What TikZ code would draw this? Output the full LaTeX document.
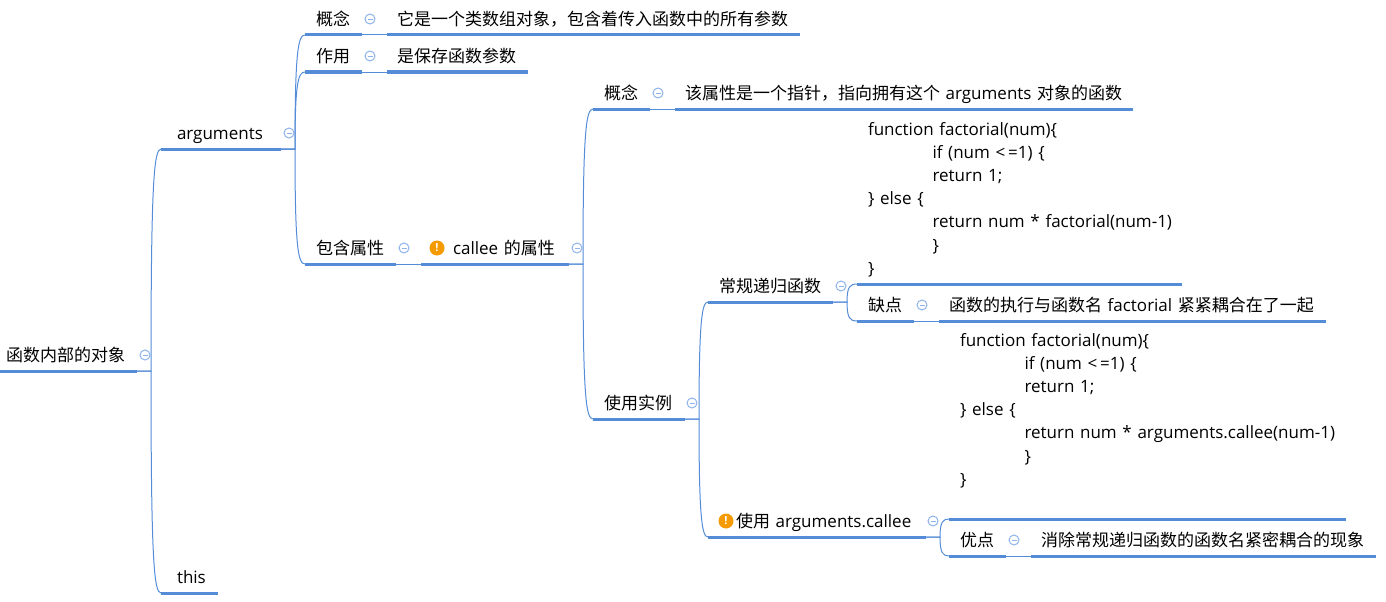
\documentclass[tikz,border=0pt]{standalone}
\usepackage{fontspec}
\setmainfont{Open Sans}
\newfontfamily\zhfont{Noto Sans CJK SC}
\newcommand{\zh}[1]{{\zhfont\fontsize{17}{23.2}\selectfont #1}}
\usetikzlibrary{calc}
\definecolor{mapblue}{HTML}{558CD8}
\definecolor{foldblue}{HTML}{8DB3EA}
\definecolor{warnorange}{HTML}{F59A00}
\tikzset{
  x=1pt,y=-1pt,
  topic/.style={anchor=south west,inner ysep=0pt,inner xsep=0pt,outer sep=0pt,minimum height=32pt,
    text height=15pt,text depth=2pt,
    font=\fontsize{17}{23.2}\selectfont,align=left,text=black},
  codeblock/.style={text height=,text depth=},
  topicbar/.style={draw=mapblue,line width=3pt},
  foldmark/.style={circle,draw=foldblue,line width=1pt,minimum size=10pt,inner sep=0pt,outer sep=0pt,
    path picture={\draw[foldblue,line width=.9pt]([xshift=2.5pt]path picture bounding box.west)--([xshift=-2.5pt]path picture bounding box.east);}},
  warnmark/.style={circle,fill=warnorange,minimum size=15pt,inner sep=0pt,outer sep=0pt,text=white,
    font=\fontsize{11}{11}\bfseries\selectfont},
  link/.style={mapblue,line width=1pt},
}
% [options], name, x1, x2, ybar, left pad, text
\newcommand{\topic}[7][]{%
  \coordinate (#2W) at (#3,#5);
  \coordinate (#2E) at (#4,#5);
  \draw[topicbar] (#2W) -- (#2E);
  \node[topic,text width=#4pt-#3pt-#6pt,xshift=#6pt,#1] (#2T) at (#2W) {#7};}
\newcommand{\fold}[2][8]{\node[foldmark,xshift=#1pt,yshift=16pt] (#2F) at (#2E) {};}
\newcommand{\branch}[2]{\draw[link] let \p1=(#1E),\p2=(#2W) in (\p1) -- ++(14,0)
  .. controls ({\x1+14pt},{\y1+0.85*(\y2-\y1)}) and ({\x1+17pt},\y2) .. (\p2);}
\newcommand{\sib}[2]{\draw[link] (#1E) -- (#2W);}
\begin{document}
\begin{tikzpicture}
\useasboundingbox (0,0) rectangle (1386,602);
\topic{root}{0}{137}{371}{6}{\zh{函数内部的对象}} \fold{root}
\topic{args}{161}{281}{149}{16}{arguments} \fold{args}
\topic{this}{161}{218}{593}{16}{this}
\topic{concept}{305}{362}{35}{11}{\zh{概念}} \fold{concept}
\topic{conceptd}{387}{800}{35}{10}{\zh{它是一个类数组对象，包含着传入函数中的所有参数}}
\topic{use}{305}{362}{72}{11}{\zh{作用}} \fold{use}
\topic{used}{387}{528}{72}{10}{\zh{是保存函数参数}}
\topic{prop}{305}{396}{264}{11}{\zh{包含属性}} \fold{prop}
\topic{callee}{421}{569}{264}{32}{callee \zh{的属性}} \fold{callee}
\node[warnmark] (calleeMark) at (437,248) {!};
\topic{cc}{593}{650}{109}{11}{\zh{概念}} \fold{cc}
\topic{ccd}{675}{1133}{109}{10}{\zh{该属性是一个指针，指向拥有这个} arguments \zh{对象的函数}}
\topic{ex}{593}{685}{419}{11}{\zh{使用实例}} \fold[7]{ex}
\topic{rec}{708}{833}{302}{11}{\zh{常规递归函数}} \fold{rec}
\topic[codeblock,yshift=7pt]{codea}{857}{1182}{284}{11}{function factorial(num)\{\\
\hspace*{64.5pt}if (num <\,=1) \{\\
\hspace*{64.5pt}return 1;\\
\} else \{\\
\hspace*{64.5pt}return num * factorial(num-1)\\
\hspace*{64.5pt}\}\\
\}}
\topic{con}{857}{914}{321}{11}{\zh{缺点}} \fold{con}
\topic{cond}{939}{1326}{321}{10}{\zh{函数的执行与函数名} factorial \zh{紧紧耦合在了一起}}
\topic{ac}{708}{926}{537}{28}{\zh{使用} arguments.callee} \fold[7]{ac}
\node[warnmark] (acMark) at (726,521) {!};
\topic[codeblock,yshift=31pt]{codeb}{949}{1346}{519}{11}{function factorial(num)\{\\
\hspace*{64.5pt}if (num <\,=1) \{\\
\hspace*{64.5pt}return 1;\\
\} else \{\\
\hspace*{64.5pt}return num * arguments.callee(num-1)\\
\hspace*{64.5pt}\}\\
\}}
\topic{pro}{949}{1006}{556}{11}{\zh{优点}} \fold{pro}
\topic{prod}{1031}{1376}{556}{10}{\zh{消除常规递归函数的函数名紧密耦合的现象}}
\branch{root}{args}\branch{root}{this}
\branch{args}{concept}\branch{args}{use}\branch{args}{prop}
\sib{concept}{conceptd}\sib{use}{used}\sib{prop}{callee}
\branch{callee}{cc}\branch{callee}{ex}
\sib{cc}{ccd}
\branch{ex}{rec}\branch{ex}{ac}
\branch{rec}{codea}\branch{rec}{con}
\sib{con}{cond}
\branch{ac}{codeb}\branch{ac}{pro}
\sib{pro}{prod}
\end{tikzpicture}
\end{document}
